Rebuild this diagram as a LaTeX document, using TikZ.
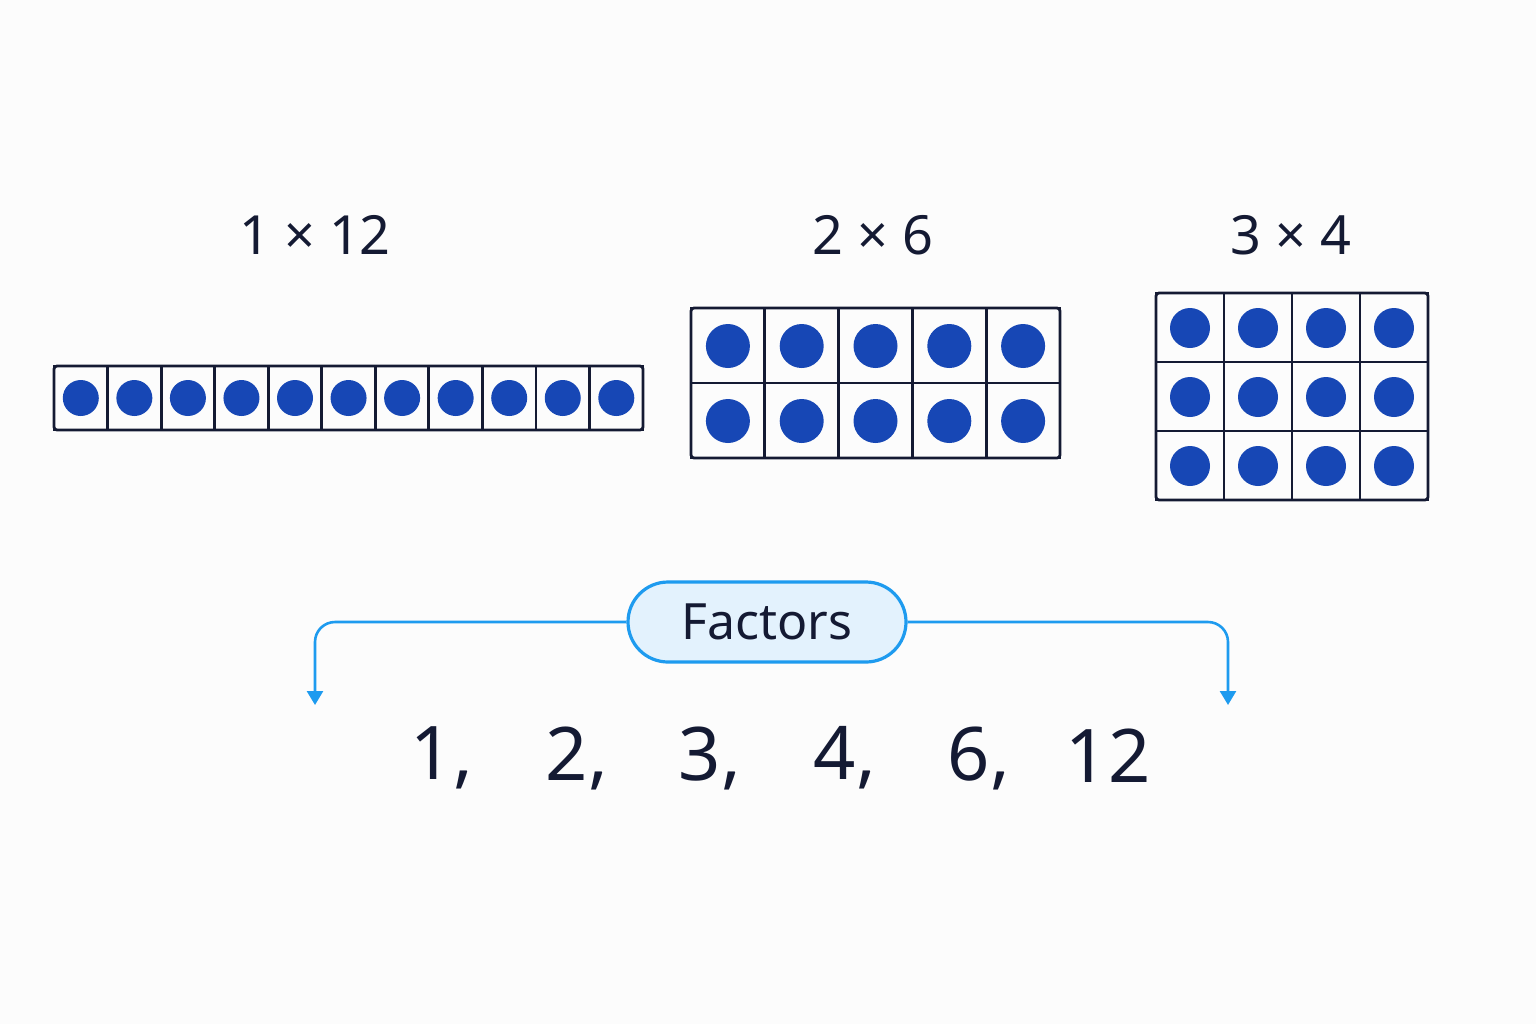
\documentclass[tikz,border=0pt]{standalone}
\usepackage{fontspec}
\setmainfont{Noto Sans}
\usetikzlibrary{arrows.meta}
\definecolor{dotc}{HTML}{1747B5}
\definecolor{ink}{HTML}{141A33}
\definecolor{sky}{HTML}{1E9BEF}
\definecolor{skyfill}{HTML}{E3F2FD}
\begin{document}
\begin{tikzpicture}[x=0.5pt,y=-0.5pt,
  grid/.style={draw=ink,line width=1.4pt,rounded corners=1.5pt},
  dot/.style={fill=dotc},
  lab/.style={text=ink,font=\fontsize{27}{30}\selectfont},
  num/.style={text=ink,font=\fontsize{37}{40}\selectfont},
  conn/.style={draw=sky,line width=1.3pt,rounded corners=10pt,-{Triangle[length=7pt,width=8pt]}}]
\fill[white!98!gray] (0,0) rectangle (1536,1024);
\useasboundingbox (0,0) rectangle (1536,1024);
% 1 x 12
\node[lab] (l1) at (315,235) {1 × 12};
\foreach \i in {0,...,10}{
  \pgfmathsetmacro\xa{54+\i*53.55}
  \draw[ink,line width=1.4pt] (\xa,366) rectangle ++(53.55,64);
  \fill[dot] (\xa+26.8,398) circle (18);}
\draw[grid] (54,366) rectangle (643,430);
% 2 x 6
\node[lab] (l2) at (873,235) {2 × 6};
\foreach \i in {0,...,4}{\foreach \j in {0,1}{
  \pgfmathsetmacro\xa{691+\i*73.8}
  \pgfmathsetmacro\ya{308+\j*75}
  \draw[ink,line width=1.4pt] (\xa,\ya) rectangle ++(73.8,75);
  \fill[dot] (\xa+36.9,\ya+38) circle (22);}}
\draw[grid] (691,308) rectangle (1060,458);
% 3 x 4
\node[lab] (l3) at (1291,235) {3 × 4};
\foreach \i in {0,...,3}{\foreach \j in {0,1,2}{
  \pgfmathsetmacro\xa{1156+\i*68}
  \pgfmathsetmacro\ya{293+\j*69}
  \draw[ink,line width=1.4pt] (\xa,\ya) rectangle ++(68,69);
  \fill[dot] (\xa+34,\ya+35) circle (20);}}
\draw[grid] (1156,293) rectangle (1428,500);
% Factors
\node[draw=sky,fill=skyfill,line width=1.6pt,rounded corners=20pt,minimum width=139pt,minimum height=40pt,
  text=ink,font=\fontsize{25}{28}\selectfont] (f) at (767,622) {Factors};
\coordinate (la) at (315,705);
\coordinate (ra) at (1228,705);
\draw[conn] (f.west) -| (la);
\draw[conn] (f.east) -| (ra);
% numbers
\node[num] (n1) at (442,758) {1,};
\node[num] (n2) at (577,758) {2,};
\node[num] (n3) at (710,758) {3,};
\node[num] (n4) at (845,758) {4,};
\node[num] (n6) at (979,758) {6,};
\node[num] (n12) at (1108,756) {12};
\end{tikzpicture}
\end{document}
